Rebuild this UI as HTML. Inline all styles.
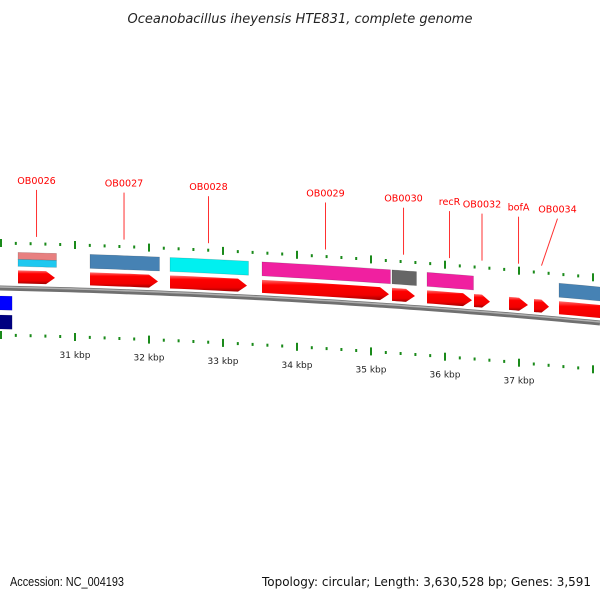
<!DOCTYPE html>
<html><head><meta charset="utf-8"><style>
body{margin:0;background:#fff;}
svg{display:block;font-family:"DejaVu Sans","Liberation Sans",sans-serif;}
</style></head><body>
<svg id="chart" width="600" height="600" viewBox="0 0 600 600" xmlns="http://www.w3.org/2000/svg">
<defs>
<linearGradient id="redg" x1="0" y1="0" x2="0" y2="1"><stop offset="0" stop-color="#ff7070"/><stop offset="0.25" stop-color="#ff0000"/><stop offset="0.75" stop-color="#f00000"/><stop offset="1" stop-color="#a00000"/></linearGradient>
</defs>
<text x="300" y="23" text-anchor="middle" font-size="13" font-style="italic" fill="#222">Oceanobacillus iheyensis HTE831, complete genome</text>
<g id="ticks"></g>
<g id="backbone"></g>
<g id="features"></g>
<g id="labels"></g>
<text x="10" y="586" font-size="12.5" font-family="Liberation Sans, sans-serif" textLength="114" lengthAdjust="spacingAndGlyphs" fill="#111">Accession: NC_004193</text>
<text x="262" y="586" font-size="12" textLength="329" lengthAdjust="spacingAndGlyphs" fill="#111">Topology: circular; Length: 3,630,528 bp; Genes: 3,591</text>
</svg>
<script>
const geneNames = ["OB0026","OB0027","OB0028","OB0029","OB0030","recR","OB0032","bofA","OB0034","OB0035"];
const geneStart = [30230,31203,32284,33527,35284,35757,36392,36865,37203,37540];
const geneEnd   = [30730,32122,33324,35243,35595,36365,36608,37122,37405,38770];
const geneCog   = [["#e88080","#1ec8f0"],["#4682b4"],["#00f0f0"],["#f020a0"],["#666666"],["#f020a0"],[],[],[],["#4682b4"]];
const geneLabeled = [true,true,true,true,true,true,true,true,true,false];
const labelNudge = [0,0,0,0,0,0,0,0,16,0];
const revStart = [29000,29000];
const revEnd = [30150,30150];
const revColors = ["#0000ff","#000080"];
const tickKbp = [29,30,31,32,33,34,35,36,37,38];
const tickLabels = ["29 kbp","30 kbp","31 kbp","32 kbp","33 kbp","34 kbp","35 kbp","36 kbp","37 kbp","38 kbp"];

const NS="http://www.w3.org/2000/svg";
function X(bp){return 75+(bp-31000)*0.074;}
function Y(x){return 288+0.0217*x+0.000061*x*x;}
function mk(tag,attrs,parent){const e=document.createElementNS(NS,tag);for(const k in attrs)e.setAttribute(k,attrs[k]);parent.appendChild(e);return e;}
function band(x1,x2,o1,o2){let p=[];const n=8;for(let i=0;i<=n;i++){const x=x1+(x2-x1)*i/n;p.push(x.toFixed(1)+","+(Y(x)+o1).toFixed(1));}for(let i=n;i>=0;i--){const x=x1+(x2-x1)*i/n;p.push(x.toFixed(1)+","+(Y(x)+o2).toFixed(1));}return p.join(" ");}
function arrow(x1,x2,o1,o2){const h=Math.min(9,(x2-x1)*0.5);const xb=x2-h;let p=[];const n=6;for(let i=0;i<=n;i++){const x=x1+(xb-x1)*i/n;p.push(x.toFixed(1)+","+(Y(x)+o1).toFixed(1));}p.push(x2.toFixed(1)+","+(Y(x2)+(o1+o2)/2).toFixed(1));for(let i=n;i>=0;i--){const x=x1+(xb-x1)*i/n;p.push(x.toFixed(1)+","+(Y(x)+o2).toFixed(1));}return p.join(" ");}

const bb=document.getElementById('backbone');
let d="M-5,"+Y(-5).toFixed(1);for(let x=0;x<=605;x+=10)d+=" L"+x+","+Y(x).toFixed(1);
let e=mk('path',{d:d,fill:"none",stroke:"#707070","stroke-width":"5"},bb);


e=mk('path',{d:d,fill:"none",stroke:"#b0b0b0","stroke-width":"1.5",transform:"translate(0,-1)"},bb);



const tg=document.getElementById('ticks');
for(let bp=28800;bp<=39000;bp+=200){const x=X(bp);if(x<-2||x>602)continue;const major=bp%1000===0;
 const len=major?8:3;const w=2;
 let t=mk('rect',{x:(x-1).toFixed(1),y:(Y(x)-45-len/2).toFixed(1),width:w,height:len,fill:"#1a8a1a"},tg);
 
 
 t=mk('rect',{x:(x-1).toFixed(1),y:(Y(x)+47-len/2).toFixed(1),width:w,height:len,fill:"#1a8a1a"},tg);
 
 
}
tickKbp.forEach((k,i)=>{const x=X(k*1000);if(x<10||x>590)return;
 const t=mk('text',{x:x.toFixed(1),y:(Y(x)+68).toFixed(1),"text-anchor":"middle","font-size":"9",fill:"#222"},tg);
 t.textContent=tickLabels[i];
 
 
});

const fg=document.getElementById('features');
const lg=document.getElementById('labels');
geneNames.forEach((nm,i)=>{const x1=X(geneStart[i]),x2=X(geneEnd[i]);
 let a=mk('polygon',{points:arrow(x1,x2,-18,-5),fill:"url(#redg)"},fg);
 
 
 const cols=geneCog[i];
 if(cols.length){const top=-36,bot=-22;const hh=(bot-top)/cols.length;
  cols.forEach((c,j)=>{let b=mk('polygon',{points:band(x1,x2+1.5,top+j*hh,top+(j+1)*hh),fill:c,stroke:"rgba(0,0,0,0.2)","stroke-width":"0.6"},fg);
   
   });
 }
 if(geneLabeled[i]){const xm=(x1+x2)/2;const lx=xm+labelNudge[i];
  const labY=Y(xm)-105;
  let l=mk('line',{x1:xm,y1:(Y(xm)-52).toFixed(1),x2:lx,y2:(labY+6).toFixed(1),stroke:"#ff3030","stroke-width":"1"},lg);
  
  
  let t=mk('text',{x:lx,y:labY.toFixed(1),"text-anchor":"middle","font-size":"9.6",fill:"#ff0000"},lg);
  t.textContent=nm;
  
  
 }
});
revStart.forEach((s,i)=>{const x1=X(s),x2=X(revEnd[i]);const o1=i===0?8:27;
 let b=mk('polygon',{points:band(x1,x2,o1,o1+14),fill:revColors[i],stroke:"rgba(0,0,0,0.2)","stroke-width":"0.5"},fg);
 
 
});
</script>
</body></html>
